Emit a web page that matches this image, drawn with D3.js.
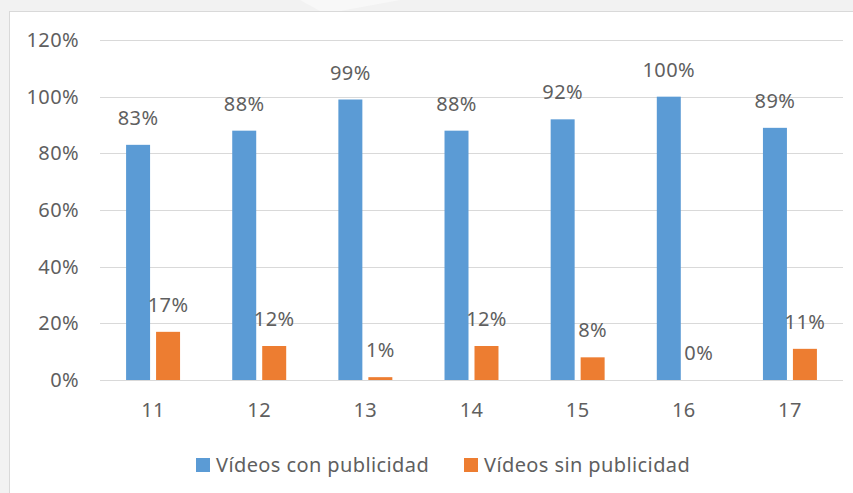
<!DOCTYPE html>
<html>
<head>
<meta charset="utf-8">
<script src="https://cdn.jsdelivr.net/npm/d3@7"></script>
<style>
  body { margin: 0; background: #f2f2f2; }
  svg { display: block; font-family: "Noto Sans", "Open Sans", sans-serif; }
  svg text { letter-spacing: 0.4px; }
</style>
</head>
<body>
<div id="vis"></div>
<script>
const categories = ["11", "12", "13", "14", "15", "16", "17"];
const seriesNames = ["Vídeos con publicidad", "Vídeos sin publicidad"];
const conPublicidad = [0.83, 0.88, 0.99, 0.88, 0.92, 1.00, 0.89];
const sinPublicidad = [0.17, 0.12, 0.01, 0.12, 0.08, 0.00, 0.11];
const yTicks = [0, 0.2, 0.4, 0.6, 0.8, 1.0, 1.2];

const width = 853, height = 493;
const colors = ["#5b9bd5", "#ed7d31"];
const textColor = "#5f5f5f";
const fontSize = "20px";

const svg = d3.select("#vis").append("svg")
  .attr("width", width)
  .attr("height", height);

// gray page behind the chart, with a faint lighter shape
svg.append("rect").attr("width", width).attr("height", height).attr("fill", "#f2f2f2");
svg.append("path")
  .attr("d", "M300,0 L400,0 L340,11 L320,11 Z")
  .attr("fill", "#f8f8f8");

// chart frame
svg.append("rect")
  .attr("x", 9.5).attr("y", 11.5)
  .attr("width", width).attr("height", height)
  .attr("fill", "#fff")
  .attr("stroke", "#d9d9d9");

const x0 = d3.scaleBand().domain(categories).range([100, 843]).padding(0);
const x1 = d3.scaleBand().domain(seriesNames).range([0, x0.bandwidth()])
  .paddingInner(0.2).paddingOuter(0.87);
const y = d3.scaleLinear().domain([0, 1.2]).range([380, 40]);

// gridlines
svg.append("g").selectAll("line")
  .data(yTicks)
  .enter()
  .append("line")
  .attr("x1", 100).attr("x2", 843)
  .attr("y1", d => Math.round(y(d)) + 0.5)
  .attr("y2", d => Math.round(y(d)) + 0.5)
  .attr("stroke", "#d9d9d9")
  .attr("stroke-width", 1.2);

// y axis labels
svg.append("g").selectAll("text")
  .data(yTicks)
  .enter()
  .append("text")
  .attr("x", 79)
  .attr("y", d => y(d))
  .attr("dy", "0.35em")
  .attr("text-anchor", "end")
  .attr("fill", textColor)
  .style("font-size", fontSize)
  .text(d => d3.format(".0%")(d));

// x axis labels
svg.append("g").selectAll("text")
  .data(categories)
  .enter()
  .append("text")
  .attr("x", d => x0(d) + x0.bandwidth() / 2)
  .attr("y", 410)
  .attr("dy", "0.35em")
  .attr("text-anchor", "middle")
  .attr("fill", textColor)
  .style("font-size", fontSize)
  .text(d => d);

const rows = categories.map((c, i) => ({
  cat: c,
  values: [conPublicidad[i], sinPublicidad[i]]
}));

const groups = svg.append("g").selectAll("g")
  .data(rows)
  .enter()
  .append("g")
  .attr("transform", d => `translate(${x0(d.cat)},0)`);

groups.selectAll("rect")
  .data(d => d.values.map((v, k) => ({ v, k })))
  .enter()
  .append("rect")
  .attr("x", d => x1(seriesNames[d.k]))
  .attr("y", d => y(d.v))
  .attr("width", x1.bandwidth())
  .attr("height", d => y(0) - y(d.v))
  .attr("fill", d => colors[d.k]);

// value labels
groups.selectAll("text")
  .data(d => d.values.map((v, k) => ({ v, k })))
  .enter()
  .append("text")
  .attr("x", d => x1(seriesNames[d.k]) + x1.bandwidth() / 2)
  .attr("y", d => y(d.v) - 27)
  .attr("dy", "0.35em")
  .attr("text-anchor", "middle")
  .attr("fill", textColor)
  .style("font-size", fontSize)
  .text(d => d3.format(".0%")(d.v));

// legend
const legendX = [196, 464];
const legend = svg.append("g").selectAll("g")
  .data(seriesNames)
  .enter()
  .append("g")
  .attr("transform", (d, i) => `translate(${legendX[i]},458)`);

legend.append("rect")
  .attr("width", 14).attr("height", 14)
  .attr("fill", (d, i) => colors[i]);

legend.append("text")
  .attr("x", 20)
  .attr("y", 7)
  .attr("dy", "0.35em")
  .attr("fill", textColor)
  .style("font-size", fontSize)
  .text(d => d);
</script>
</body>
</html>
